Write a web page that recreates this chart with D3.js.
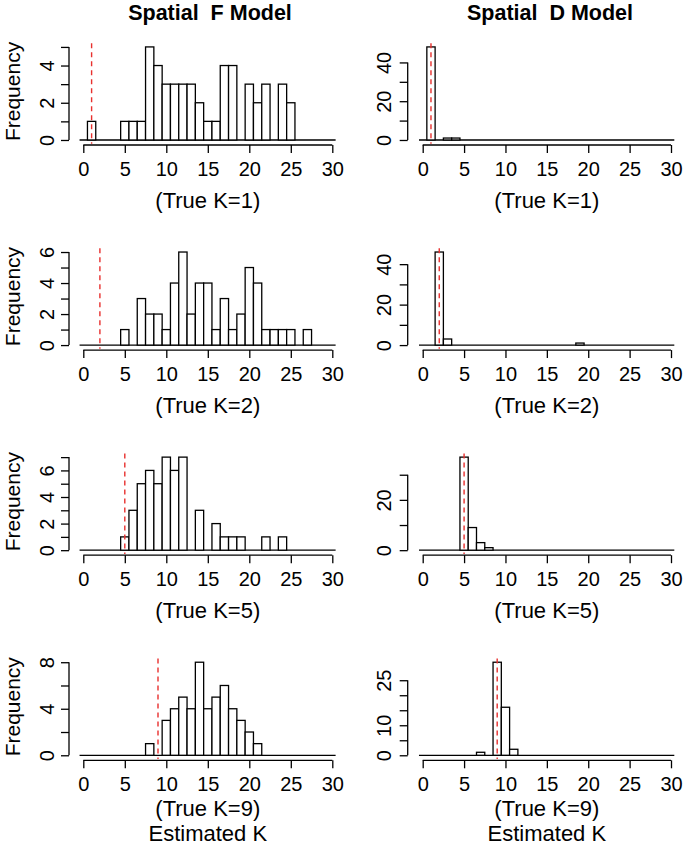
<!DOCTYPE html>
<html><head><meta charset="utf-8">
<script src="https://cdn.jsdelivr.net/npm/d3@7"></script>
<style>
body{margin:0;background:#fff}
svg{display:block}
text{font-family:"Liberation Sans",Arial,Helvetica,sans-serif;fill:#000}
</style>
</head><body>
<svg id="chart" width="684" height="853"></svg>
<script>
// ---------- data ----------
const columnTitles = ["Spatial  F Model", "Spatial  D Model"];
const trueK = [1, 2, 5, 9];
const rowLabels = ["(True K=1)", "(True K=2)", "(True K=5)", "(True K=9)"];
const xTicks = [0, 5, 10, 15, 20, 25, 30];
const xLabel = "Estimated K";
const yLabel = "Frequency";

// Spatial F model histograms (bin = estimated K, count = frequency)
const fK1Bins   = [1, 5, 6, 7, 8, 9, 10, 11, 12, 13, 14, 15, 16, 17, 18, 20, 21, 22, 24, 25];
const fK1Counts = [1, 1, 1, 1, 5, 4, 3, 3, 3, 3, 2, 1, 1, 4, 4, 3, 2, 3, 3, 2];
const fK2Bins   = [5, 7, 8, 9, 10, 11, 12, 13, 14, 15, 16, 17, 18, 19, 20, 21, 22, 23, 24, 25, 27];
const fK2Counts = [1, 3, 2, 2, 1, 4, 6, 2, 4, 4, 1, 3, 1, 2, 5, 4, 1, 1, 1, 1, 1];
const fK5Bins   = [5, 6, 7, 8, 9, 10, 11, 12, 14, 16, 17, 18, 19, 22, 24];
const fK5Counts = [1, 3, 5, 6, 5, 7, 6, 7, 3, 2, 1, 1, 1, 1, 1];
const fK9Bins   = [8, 10, 11, 12, 13, 14, 15, 16, 17, 18, 19, 20, 21];
const fK9Counts = [1, 3, 4, 5, 4, 8, 4, 5, 6, 4, 3, 2, 1];

// Spatial D model histograms
const dK1Bins   = [1, 3, 4];
const dK1Counts = [48, 1, 1];
const dK2Bins   = [2, 3, 19];
const dK2Counts = [46, 3, 1];
const dK5Bins   = [5, 6, 7, 8];
const dK5Counts = [37, 9, 3, 1];
const dK9Bins   = [7, 9, 10, 11];
const dK9Counts = [1, 31, 16, 2];

// y-axis ticks and the tick labels that are shown
const fYTicks  = [[0,1,2,3,4,5], [0,1,2,3,4,5,6], [0,1,2,3,4,5,6,7], [0,2,4,6,8]];
const fYLabels = [[0,2,4], [0,2,4,6], [0,2,4,6], [0,4,8]];
const dYTicks  = [[0,10,20,30,40], [0,10,20,30,40], [0,10,20,30], [0,5,10,15,20,25]];
const dYLabels = [[0,20,40], [0,20,40], [0,20], [0,10,25]];

const fBins = [fK1Bins, fK2Bins, fK5Bins, fK9Bins];
const fCounts = [fK1Counts, fK2Counts, fK5Counts, fK9Counts];
const dBins = [dK1Bins, dK2Bins, dK5Bins, dK9Bins];
const dCounts = [dK1Counts, dK2Counts, dK5Counts, dK9Counts];

// ---------- layout ----------
const svg = d3.select("#chart");
svg.append("rect").attr("width", 684).attr("height", 853).attr("fill", "#fff");

const cols = [
  {x0: 83.3, x1: 332.3, axisX: 69, labelX: 47, titleX: 210},
  {x0: 422.7, x1: 671, axisX: 407.7, labelX: 384, titleX: 550}
];
const rowTop0 = 43.2, rowStep = 205.1, plotH = 100.5;
const fs = 20;

columnTitles.forEach((t, ci) => {
  svg.append("text").attr("x", cols[ci].titleX).attr("y", 20)
    .attr("text-anchor", "middle").attr("font-weight", "bold")
    .attr("font-size", 21.5).style("white-space", "pre").text(t);
});

function panel(ci, ri, bins, counts, yTicks, yLabels) {
  const c = cols[ci];
  const top = rowTop0 + rowStep * ri;
  const bottom = top + plotH;
  const ymax = d3.max(counts);
  const x = d3.scaleLinear().domain([0, 30]).range([c.x0, c.x1]);
  const y = d3.scaleLinear().domain([-0.04 * ymax, 1.04 * ymax]).range([bottom, top]);
  const g = svg.append("g");

  // baseline
  g.append("line").attr("x1", x(-0.45)).attr("x2", x(30.4))
    .attr("y1", y(0)).attr("y2", y(0)).attr("stroke", "#000").attr("stroke-width", 1.3);

  // bars
  g.selectAll("rect.bar").data(bins.map((b, i) => ({k: b, n: counts[i]})))
    .enter().append("rect").attr("class", "bar")
    .attr("x", d => x(d.k - 0.5)).attr("width", d => x(d.k + 0.5) - x(d.k - 0.5))
    .attr("y", d => y(d.n)).attr("height", d => y(0) - y(d.n))
    .attr("fill", "#fff").attr("stroke", "#000").attr("stroke-width", 1.3);

  // true K line
  g.append("line").attr("x1", x(trueK[ri])).attr("x2", x(trueK[ri]))
    .attr("y1", top).attr("y2", bottom)
    .attr("stroke", "#e8302e").attr("stroke-width", 1.4).attr("stroke-dasharray", "5,4");

  // x axis
  const axY = bottom + 1.3;
  const xa = g.append("g").attr("transform", `translate(0,${axY})`)
    .call(d3.axisBottom(x).tickValues(xTicks).tickSize(8).tickPadding(9).tickFormat(d3.format("d")));
  xa.attr("font-family", null);
  xa.select(".domain").attr("stroke-width", 1.3).attr("d", `M${x(0)},0H${x(30)}`);
  xa.selectAll(".tick line").attr("stroke-width", 1.3);
  xa.selectAll("text").attr("font-size", fs);

  // y axis
  const ya = g.append("g").attr("transform", `translate(${c.axisX},0)`)
    .call(d3.axisLeft(y).tickValues(yTicks).tickSize(8).tickFormat(d => yLabels.includes(d) ? d : ""));
  ya.attr("font-family", null);
  ya.select(".domain").attr("stroke-width", 1.3)
    .attr("d", `M0,${y(yTicks[0])}V${y(yTicks[yTicks.length - 1])}`);
  ya.selectAll(".tick line").attr("stroke-width", 1.3);
  ya.selectAll(".tick text").attr("font-size", fs)
    .attr("x", null).attr("dy", null)
    .attr("text-anchor", "middle").attr("dominant-baseline", "central")
    .attr("transform", `translate(${c.labelX - c.axisX},0) rotate(-90)`);

  // row label; the last row also carries the x-axis title
  const lastRow = ri === 3;
  const cx = (x(0) + x(30)) / 2;
  g.append("text").attr("x", cx).attr("y", y(0) + (lastRow ? 61 : 68))
    .attr("text-anchor", "middle").attr("font-size", fs + 2).text(rowLabels[ri]);
  if (lastRow) {
    g.append("text").attr("x", cx).attr("y", y(0) + 86)
      .attr("text-anchor", "middle").attr("font-size", fs + 2).text(xLabel);
  }

  if (ci === 0) {
    g.append("text").attr("transform", `translate(12,${(top + bottom) / 2 - 2}) rotate(-90)`)
      .attr("text-anchor", "middle").attr("dominant-baseline", "central")
      .attr("font-size", fs + 1).text(yLabel);
  }
}

for (let r = 0; r < 4; r++) {
  panel(0, r, fBins[r], fCounts[r], fYTicks[r], fYLabels[r]);
  panel(1, r, dBins[r], dCounts[r], dYTicks[r], dYLabels[r]);
}
</script>
</body></html>
